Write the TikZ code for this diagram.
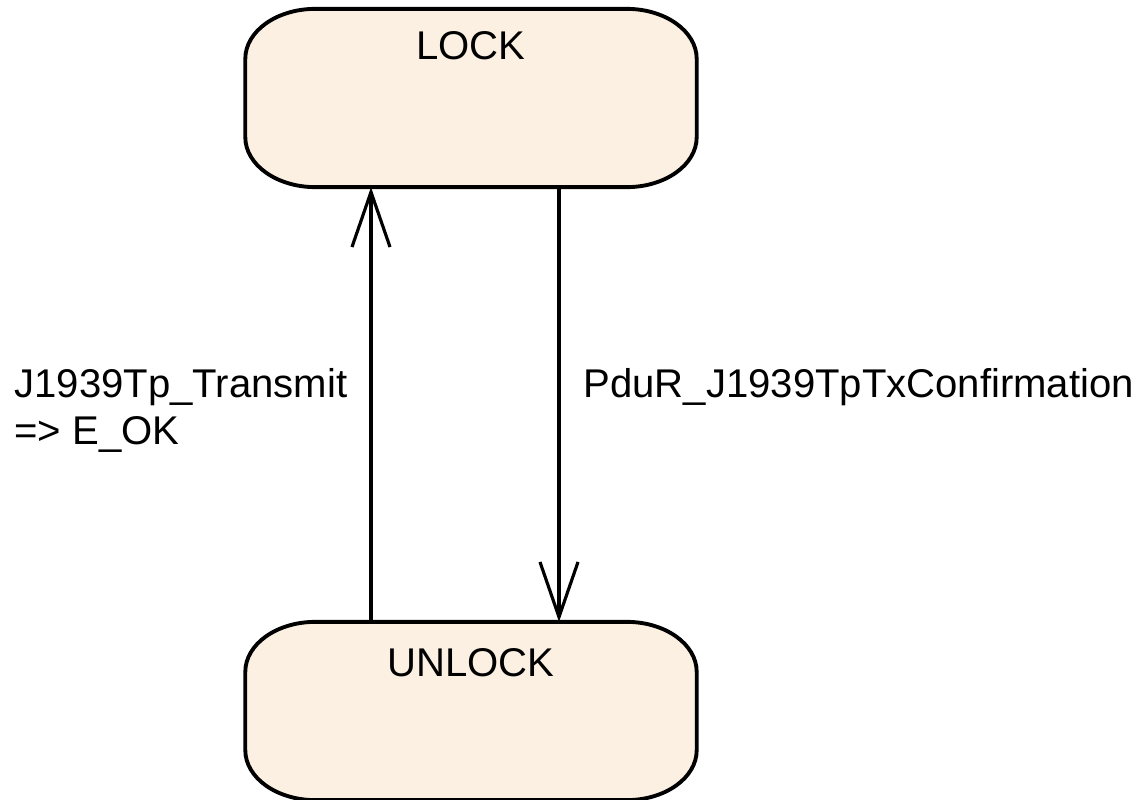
\documentclass[tikz,border=0pt]{standalone}
\usepackage{fontspec}
\setmainfont{Liberation Sans}
\usetikzlibrary{positioning, arrows.meta}
\definecolor{statefill}{RGB}{251,240,226}

% outline of a state with wide elliptic corners
\newcommand{\stateoutline}[1]{%
  \draw[line width=1.1pt,fill=statefill]
    ([xshift=0.7cm]#1.north west) -- ([xshift=-0.7cm]#1.north east)
    arc[start angle=90,end angle=0,x radius=0.7cm,y radius=0.5cm]
    -- ([yshift=0.5cm]#1.south east)
    arc[start angle=0,end angle=-90,x radius=0.7cm,y radius=0.5cm]
    -- ([xshift=0.7cm]#1.south west)
    arc[start angle=-90,end angle=-180,x radius=0.7cm,y radius=0.5cm]
    -- ([yshift=-0.5cm]#1.north west)
    arc[start angle=180,end angle=90,x radius=0.7cm,y radius=0.5cm] -- cycle;}

\begin{document}
\begin{tikzpicture}[x=0.01cm,y=-0.01cm,>={Straight Barb[length=5.5mm,width=3.8mm]},line width=0.9pt,font=\fontsize{11.4}{13.6}\selectfont]
  \tikzstyle{statebox}=[minimum width=4.48cm,minimum height=1.75cm,inner sep=0pt]
  \tikzstyle{trans}=[anchor=base west,align=left,inner sep=0pt]
  \useasboundingbox (0,0) rectangle (1144,800);

  \node[statebox] (LOCK) at (471,98) {};
  \node[statebox] (UNLOCK) at (471,711) {};
  \stateoutline{LOCK}
  \stateoutline{UNLOCK}
  \node[anchor=base,inner sep=0pt] (LOCKname) at (471,60) {LOCK};
  \node[anchor=base,inner sep=0pt] (UNLOCKname) at (471,676) {UNLOCK};

  \coordinate (upx) at (371,0);
  \coordinate (downx) at (559,0);
  \path[->] (UNLOCK.north -| upx) edge (LOCK.south -| upx)
            (LOCK.south -| downx) edge (UNLOCK.north -| downx);

  \node[trans] (sendlabel) at (13,445) {J1939Tp\_Transmit\\=> E\_OK};
  \node[trans] (conflabel) at (582,397) {PduR\_J1939TpTxConfirmation};
\end{tikzpicture}
\end{document}
